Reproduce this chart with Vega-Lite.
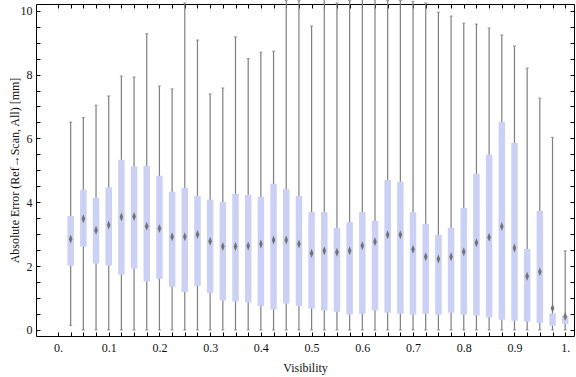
{
  "$schema": "https://vega.github.io/schema/vega-lite/v6.json",
  "width": 538,
  "height": 332,
  "autosize": {"type": "none"},
  "padding": {"left": 36, "top": 4, "right": 2, "bottom": 41},
  "background": "white",
  "config": {
    "view": {"stroke": null},
    "font": "Liberation Serif",
    "axis": {
      "labelFont": "Liberation Serif",
      "labelFontSize": 12,
      "labelColor": "#111111",
      "titleFont": "Liberation Serif",
      "titleFontSize": 12,
      "titleFontWeight": "normal",
      "titleColor": "#111111",
      "domainColor": "#000000",
      "domainWidth": 1,
      "tickColor": "#000000",
      "tickWidth": 1,
      "grid": false,
      "labelOverlap": false,
      "labelFlush": false
    }
  },
  "data": {
    "values": [
      {"vis": 0.025, "lo": 0.14, "q1": 2.01, "q3": 3.57, "hi": 6.51, "mean": 2.85},
      {"vis": 0.05, "lo": 0, "q1": 2.61, "q3": 4.39, "hi": 6.65, "mean": 3.48},
      {"vis": 0.075, "lo": 0, "q1": 2.08, "q3": 4.14, "hi": 7.04, "mean": 3.12},
      {"vis": 0.1, "lo": 0, "q1": 2.02, "q3": 4.47, "hi": 7.33, "mean": 3.29},
      {"vis": 0.125, "lo": 0, "q1": 1.73, "q3": 5.33, "hi": 7.95, "mean": 3.54},
      {"vis": 0.15, "lo": 0, "q1": 1.92, "q3": 5.12, "hi": 7.92, "mean": 3.55},
      {"vis": 0.175, "lo": 0, "q1": 1.52, "q3": 5.14, "hi": 9.28, "mean": 3.25},
      {"vis": 0.2, "lo": 0, "q1": 1.6, "q3": 4.83, "hi": 7.64, "mean": 3.18},
      {"vis": 0.225, "lo": 0, "q1": 1.35, "q3": 4.33, "hi": 7.55, "mean": 2.92},
      {"vis": 0.25, "lo": 0, "q1": 1.19, "q3": 4.45, "hi": 10.24, "mean": 2.92},
      {"vis": 0.275, "lo": 0, "q1": 1.38, "q3": 4.2, "hi": 9.08, "mean": 2.99},
      {"vis": 0.3, "lo": 0, "q1": 1.16, "q3": 4.08, "hi": 7.39, "mean": 2.78},
      {"vis": 0.325, "lo": 0, "q1": 0.92, "q3": 4.01, "hi": 7.58, "mean": 2.61},
      {"vis": 0.35, "lo": 0, "q1": 0.89, "q3": 4.26, "hi": 9.18, "mean": 2.61},
      {"vis": 0.375, "lo": 0, "q1": 0.86, "q3": 4.23, "hi": 8.5, "mean": 2.63},
      {"vis": 0.4, "lo": 0, "q1": 0.75, "q3": 4.17, "hi": 8.7, "mean": 2.69},
      {"vis": 0.425, "lo": 0, "q1": 0.64, "q3": 4.58, "hi": 8.73, "mean": 2.82},
      {"vis": 0.45, "lo": 0, "q1": 0.83, "q3": 4.41, "hi": 10.32, "mean": 2.82},
      {"vis": 0.475, "lo": 0, "q1": 0.75, "q3": 4.2, "hi": 10.32, "mean": 2.69},
      {"vis": 0.5, "lo": 0, "q1": 0.67, "q3": 3.69, "hi": 9.52, "mean": 2.4},
      {"vis": 0.525, "lo": 0, "q1": 0.61, "q3": 3.69, "hi": 11, "mean": 2.48},
      {"vis": 0.55, "lo": 0, "q1": 0.57, "q3": 3.2, "hi": 10.24, "mean": 2.43},
      {"vis": 0.575, "lo": 0, "q1": 0.48, "q3": 3.38, "hi": 10.32, "mean": 2.48},
      {"vis": 0.6, "lo": 0, "q1": 0.51, "q3": 3.69, "hi": 11, "mean": 2.64},
      {"vis": 0.625, "lo": 0, "q1": 0.61, "q3": 3.42, "hi": 11, "mean": 2.76},
      {"vis": 0.65, "lo": 0, "q1": 0.54, "q3": 4.7, "hi": 10.32, "mean": 2.98},
      {"vis": 0.675, "lo": 0, "q1": 0.51, "q3": 4.64, "hi": 10.32, "mean": 2.98},
      {"vis": 0.7, "lo": 0, "q1": 0.48, "q3": 3.69, "hi": 10.29, "mean": 2.53},
      {"vis": 0.725, "lo": 0, "q1": 0.51, "q3": 3.32, "hi": 10.24, "mean": 2.29},
      {"vis": 0.75, "lo": 0, "q1": 0.48, "q3": 2.98, "hi": 9.95, "mean": 2.22},
      {"vis": 0.775, "lo": 0, "q1": 0.54, "q3": 3.2, "hi": 9.83, "mean": 2.29},
      {"vis": 0.8, "lo": 0, "q1": 0.48, "q3": 3.82, "hi": 9.61, "mean": 2.45},
      {"vis": 0.825, "lo": 0, "q1": 0.45, "q3": 4.89, "hi": 9.58, "mean": 2.73},
      {"vis": 0.85, "lo": 0, "q1": 0.39, "q3": 5.49, "hi": 9.46, "mean": 2.9},
      {"vis": 0.875, "lo": 0, "q1": 0.32, "q3": 6.52, "hi": 9.24, "mean": 3.24},
      {"vis": 0.9, "lo": 0, "q1": 0.29, "q3": 5.86, "hi": 8.89, "mean": 2.57},
      {"vis": 0.925, "lo": 0, "q1": 0.26, "q3": 2.54, "hi": 8.2, "mean": 1.68},
      {"vis": 0.95, "lo": 0, "q1": 0.22, "q3": 3.73, "hi": 7.26, "mean": 1.82},
      {"vis": 0.975, "lo": 0, "q1": 0.13, "q3": 0.52, "hi": 6.03, "mean": 0.68},
      {"vis": 1.0, "lo": 0, "q1": 0.19, "q3": 0.44, "hi": 2.48, "mean": 0.42}
    ]
  },
  "resolve": {"axis": {"x": "independent", "y": "independent"}},
  "layer": [
    {
      "mark": {"type": "rule", "color": "#7f7f7f", "strokeWidth": 1.2},
      "encoding": {
        "x": {
          "field": "vis", "type": "quantitative",
          "scale": {"domain": [-0.0335, 1.0075], "nice": false, "zero": false},
          "axis": {
            "orient": "bottom",
            "values": [0, 0.025, 0.05, 0.075, 0.1, 0.125, 0.15, 0.175, 0.2, 0.225, 0.25, 0.275, 0.3, 0.325, 0.35, 0.375, 0.4, 0.425, 0.45, 0.475, 0.5, 0.525, 0.55, 0.575, 0.6, 0.625, 0.65, 0.675, 0.7, 0.725, 0.75, 0.775, 0.8, 0.825, 0.85, 0.875, 0.9, 0.925, 0.95, 0.975, 1],
            "tickSize": -4,
            "labelPadding": 10,
            "labelFont": "Liberation Serif",
            "titleFont": "Liberation Serif",
            "labelExpr": "abs(datum.value*10 - round(datum.value*10)) < 0.000001 ? (datum.value == 0 ? '0.' : (datum.value == 1 ? '1.' : format(datum.value, '.1f'))) : ''",
            "title": "Visibility",
            "titlePadding": 9
          }
        },
        "y": {
          "field": "lo", "type": "quantitative",
          "scale": {"domain": [-0.19, 10.21], "nice": false, "zero": false},
          "axis": {
            "orient": "left",
            "values": [0, 0.5, 1, 1.5, 2, 2.5, 3, 3.5, 4, 4.5, 5, 5.5, 6, 6.5, 7, 7.5, 8, 8.5, 9, 9.5, 10],
            "tickSize": -4,
            "labelPadding": 8,
            "labelFont": "Liberation Serif",
            "titleFont": "Liberation Serif",
            "labelExpr": "datum.value % 2 == 0 ? format(datum.value, 'd') : ''",
            "title": "Absolute Error (Ref→Scan, All) [mm]",
            "titlePadding": -1
          }
        },
        "y2": {"field": "hi"}
      }
    },
    {
      "mark": {"type": "bar", "color": "#cbd1f4", "size": 6.5},
      "encoding": {
        "x": {
          "field": "vis", "type": "quantitative",
          "axis": {
            "orient": "top",
            "values": [0, 0.025, 0.05, 0.075, 0.1, 0.125, 0.15, 0.175, 0.2, 0.225, 0.25, 0.275, 0.3, 0.325, 0.35, 0.375, 0.4, 0.425, 0.45, 0.475, 0.5, 0.525, 0.55, 0.575, 0.6, 0.625, 0.65, 0.675, 0.7, 0.725, 0.75, 0.775, 0.8, 0.825, 0.85, 0.875, 0.9, 0.925, 0.95, 0.975, 1],
            "tickSize": -4,
            "labels": false,
            "title": null
          }
        },
        "y": {
          "field": "q1", "type": "quantitative",
          "axis": {
            "orient": "right",
            "values": [0, 0.5, 1, 1.5, 2, 2.5, 3, 3.5, 4, 4.5, 5, 5.5, 6, 6.5, 7, 7.5, 8, 8.5, 9, 9.5, 10],
            "tickSize": -4,
            "labels": false,
            "title": null
          }
        },
        "y2": {"field": "q3"}
      }
    },
    {
      "transform": [{"fold": ["lo", "hi"], "as": ["end", "val"]}],
      "mark": {"type": "tick", "orient": "horizontal", "color": "#7f7f7f", "size": 3, "thickness": 1.2},
      "encoding": {
        "x": {"field": "vis", "type": "quantitative", "axis": null},
        "y": {"field": "val", "type": "quantitative", "axis": null}
      }
    },
    {
      "mark": {"type": "point", "shape": "M0,-1L0.4,0L0,1L-0.4,0Z", "filled": true, "color": "#737373", "opacity": 1, "size": 81, "strokeWidth": 0},
      "encoding": {
        "x": {"field": "vis", "type": "quantitative", "axis": null},
        "y": {"field": "mean", "type": "quantitative", "axis": null}
      }
    }
  ]
}
